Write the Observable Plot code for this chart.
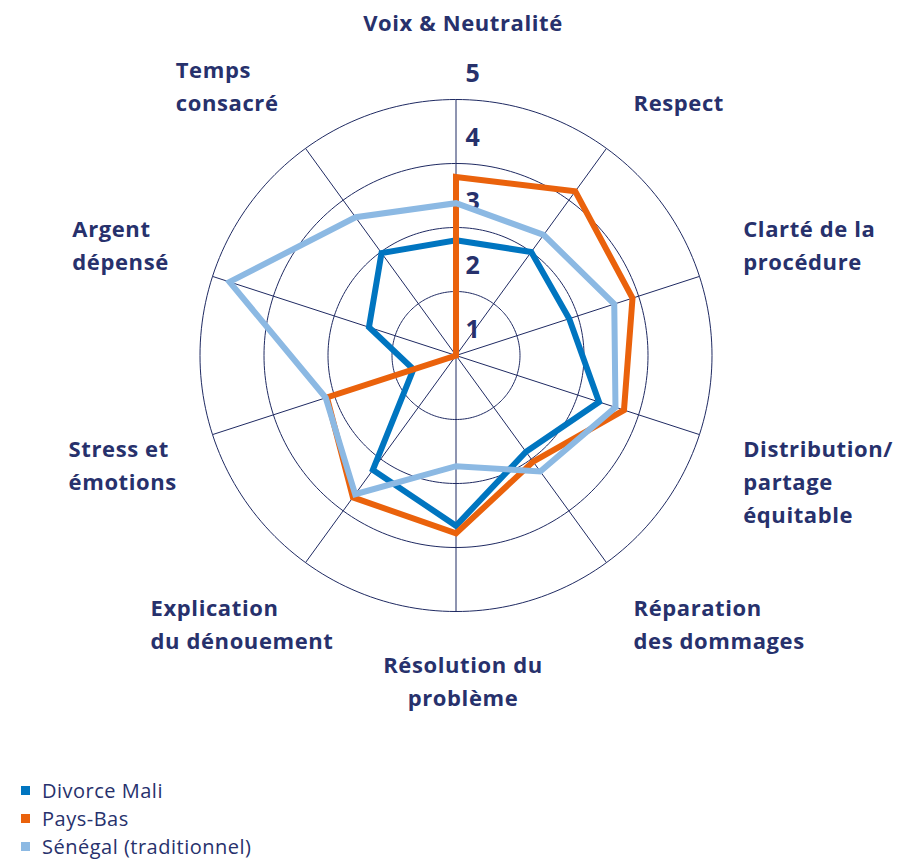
<!DOCTYPE html>
<html>
<head>
<meta charset="utf-8">
<script src="https://cdn.jsdelivr.net/npm/d3@7"></script>
<script src="https://cdn.jsdelivr.net/npm/@observablehq/plot@0.6"></script>
<style>
  body { margin: 0; background: #fff; }
  #chart svg text { letter-spacing: 0.6px; }
  #legend { font-family: "Open Sans", sans-serif; font-size: 20px; letter-spacing: 0.5px; color: #27316c; padding-left: 21px; }
  #legend .item { height: 28px; display: flex; align-items: center; }
  #legend .sw { width: 9px; height: 9px; margin-right: 12px; flex: none; }
</style>
</head>
<body>
<div id="chart"></div>
<div id="legend"></div>
<script>
// ---- data ----
const categories = [
  "Voix & Neutralité",
  "Respect",
  "Clarté de la\nprocédure",
  "Distribution/\npartage\néquitable",
  "Réparation\ndes dommages",
  "Résolution du\nproblème",
  "Explication\ndu dénouement",
  "Stress et\némotions",
  "Argent\ndépensé",
  "Temps\nconsacré"
];
const seriesNames = ["Divorce Mali", "Pays-Bas", "Sénégal (traditionnel)"];
const divorceMali = [2.8, 3.0, 2.86, 3.35, 2.86, 3.66, 3.21, 1.7, 2.43, 2.98];
const paysBas     = [3.79, 4.17, 3.9, 3.76, 3.05, 3.78, 3.74, 3.12, 1, 1];
const senegal     = [3.38, 3.33, 3.6, 3.62, 3.24, 2.73, 3.68, 3.14, 4.72, 3.67];
const tickValues = [1, 2, 3, 4, 5];

// ---- styling / layout ----
const seriesColors = ["#0075c0", "#ea620c", "#8cb9e3"];
const textColor = "#27316c";
const gridColor = "#1f2a62";
const width = 908, height = 776;
const cx = 455.5, cy = 355, R = 256;
const vMin = d3.min(tickValues), vMax = d3.max(tickValues);
const rMax = vMax - vMin;
const pxPerUnit = R / rMax;
const n = categories.length;
const ang = i => 2 * Math.PI * i / n;
const rr = v => v - vMin;

const seriesValues = [divorceMali, paysBas, senegal];
const rows = seriesValues.map((vals, s) => vals.map((v, i) => ({
  series: seriesNames[s], cat: categories[i], value: v,
  x: rr(v) * Math.sin(ang(i)), y: rr(v) * Math.cos(ang(i))
})));

// rings
const ringPts = tickValues.filter(v => v > vMin).flatMap(v =>
  d3.range(240).map(k => ({ring: v, x: rr(v) * Math.sin(2 * Math.PI * k / 240), y: rr(v) * Math.cos(2 * Math.PI * k / 240)})));

// category labels
const labelSize = 22, labelLH = 1.5, labelSpacing = 0.6;
const ctx = document.createElement("canvas").getContext("2d");
ctx.font = `700 ${labelSize}px "Open Sans"`;
const textWidth = s => ctx.measureText(s).width + s.length * labelSpacing;
const tickDy = -26, tickSize = 25;
const labelDist = 302 / pxPerUnit;
const topDist = (R - tickDy + 43) / pxPerUnit;
const capH = 0.714 * labelSize;
const topShift = -(0.71 * labelLH - 0.714) * labelSize;
const labels = categories.map((c, i) => {
  const a = ang(i), s = Math.sin(a), co = Math.cos(a);
  const side = Math.abs(s) < 1e-6 ? 0 : Math.sign(s);
  const lines = c.split("\n");
  const lineAnchor = co > 0 ? "bottom" : "top";
  const anchorLine = lineAnchor === "bottom" ? lines[lines.length - 1] : lines[0];
  const w = textWidth(anchorLine) / pxPerUnit;
  const d = (side === 0 && co > 0) ? topDist : labelDist;
  const ax = d * s, ay = d * co;
  // labels beside the chart centre their nearest line on the spoke direction
  const besides = Math.abs(co) < 0.5;
  let dy = lineAnchor === "top" ? topShift : 0;
  if (besides) dy += lineAnchor === "top" ? -capH / 2 : capH / 2;
  return {text: c, x: side < 0 ? ax - w : ax, y: ay, textAnchor: side === 0 ? "middle" : "start", lineAnchor, dy: Math.round(dy * 10) / 10};
});
const labelGroups = d3.groups(labels, l => `${l.textAnchor}|${l.lineAnchor}|${l.dy}`);
const labelMarks = labelGroups.map(([key, sub]) => {
  const {textAnchor: ta, lineAnchor: la, dy} = sub[0];
  return Plot.text(sub, {
    x: "x", y: "y", text: "text", textAnchor: ta, lineAnchor: la, lineHeight: labelLH,
    dx: ta === "middle" ? 7 : 0, dy,
    fontSize: labelSize, fontWeight: 700, fill: textColor
  });
});

const chart = Plot.plot({
  width, height,
  margin: 0,
  style: {fontFamily: "'Open Sans', sans-serif", background: "#fff"},
  x: {domain: [-rMax, rMax], range: [cx - R, cx + R], axis: null},
  y: {domain: [-rMax, rMax], range: [cy + R, cy - R], axis: null},
  color: {domain: seriesNames, range: seriesColors},
  marks: [
    Plot.line(ringPts, {x: "x", y: "y", z: "ring", curve: "linear-closed", stroke: gridColor, strokeWidth: 1}),
    Plot.link(categories, {
      x1: () => 0, y1: () => 0,
      x2: (d, i) => rMax * Math.sin(ang(i)), y2: (d, i) => rMax * Math.cos(ang(i)),
      stroke: gridColor, strokeWidth: 1
    }),
    Plot.text(tickValues, {
      x: () => 0, y: v => rr(v), text: v => String(v), dx: 17, dy: tickDy,
      fontSize: tickSize, fontWeight: 700, fill: textColor
    }),
    ...rows.map(r => Plot.line(r, {
      x: "x", y: "y", stroke: "series", curve: "linear-closed",
      strokeWidth: 6, strokeLinejoin: "miter", strokeMiterlimit: 10
    })),
    ...labelMarks
  ]
});
document.getElementById("chart").appendChild(chart);

const legend = document.getElementById("legend");
seriesNames.forEach((name, i) => {
  const item = document.createElement("div");
  item.className = "item";
  const sw = document.createElement("span");
  sw.className = "sw";
  sw.style.background = seriesColors[i];
  const t = document.createElement("span");
  t.textContent = name;
  item.appendChild(sw); item.appendChild(t);
  legend.appendChild(item);
});
</script>
</body>
</html>
